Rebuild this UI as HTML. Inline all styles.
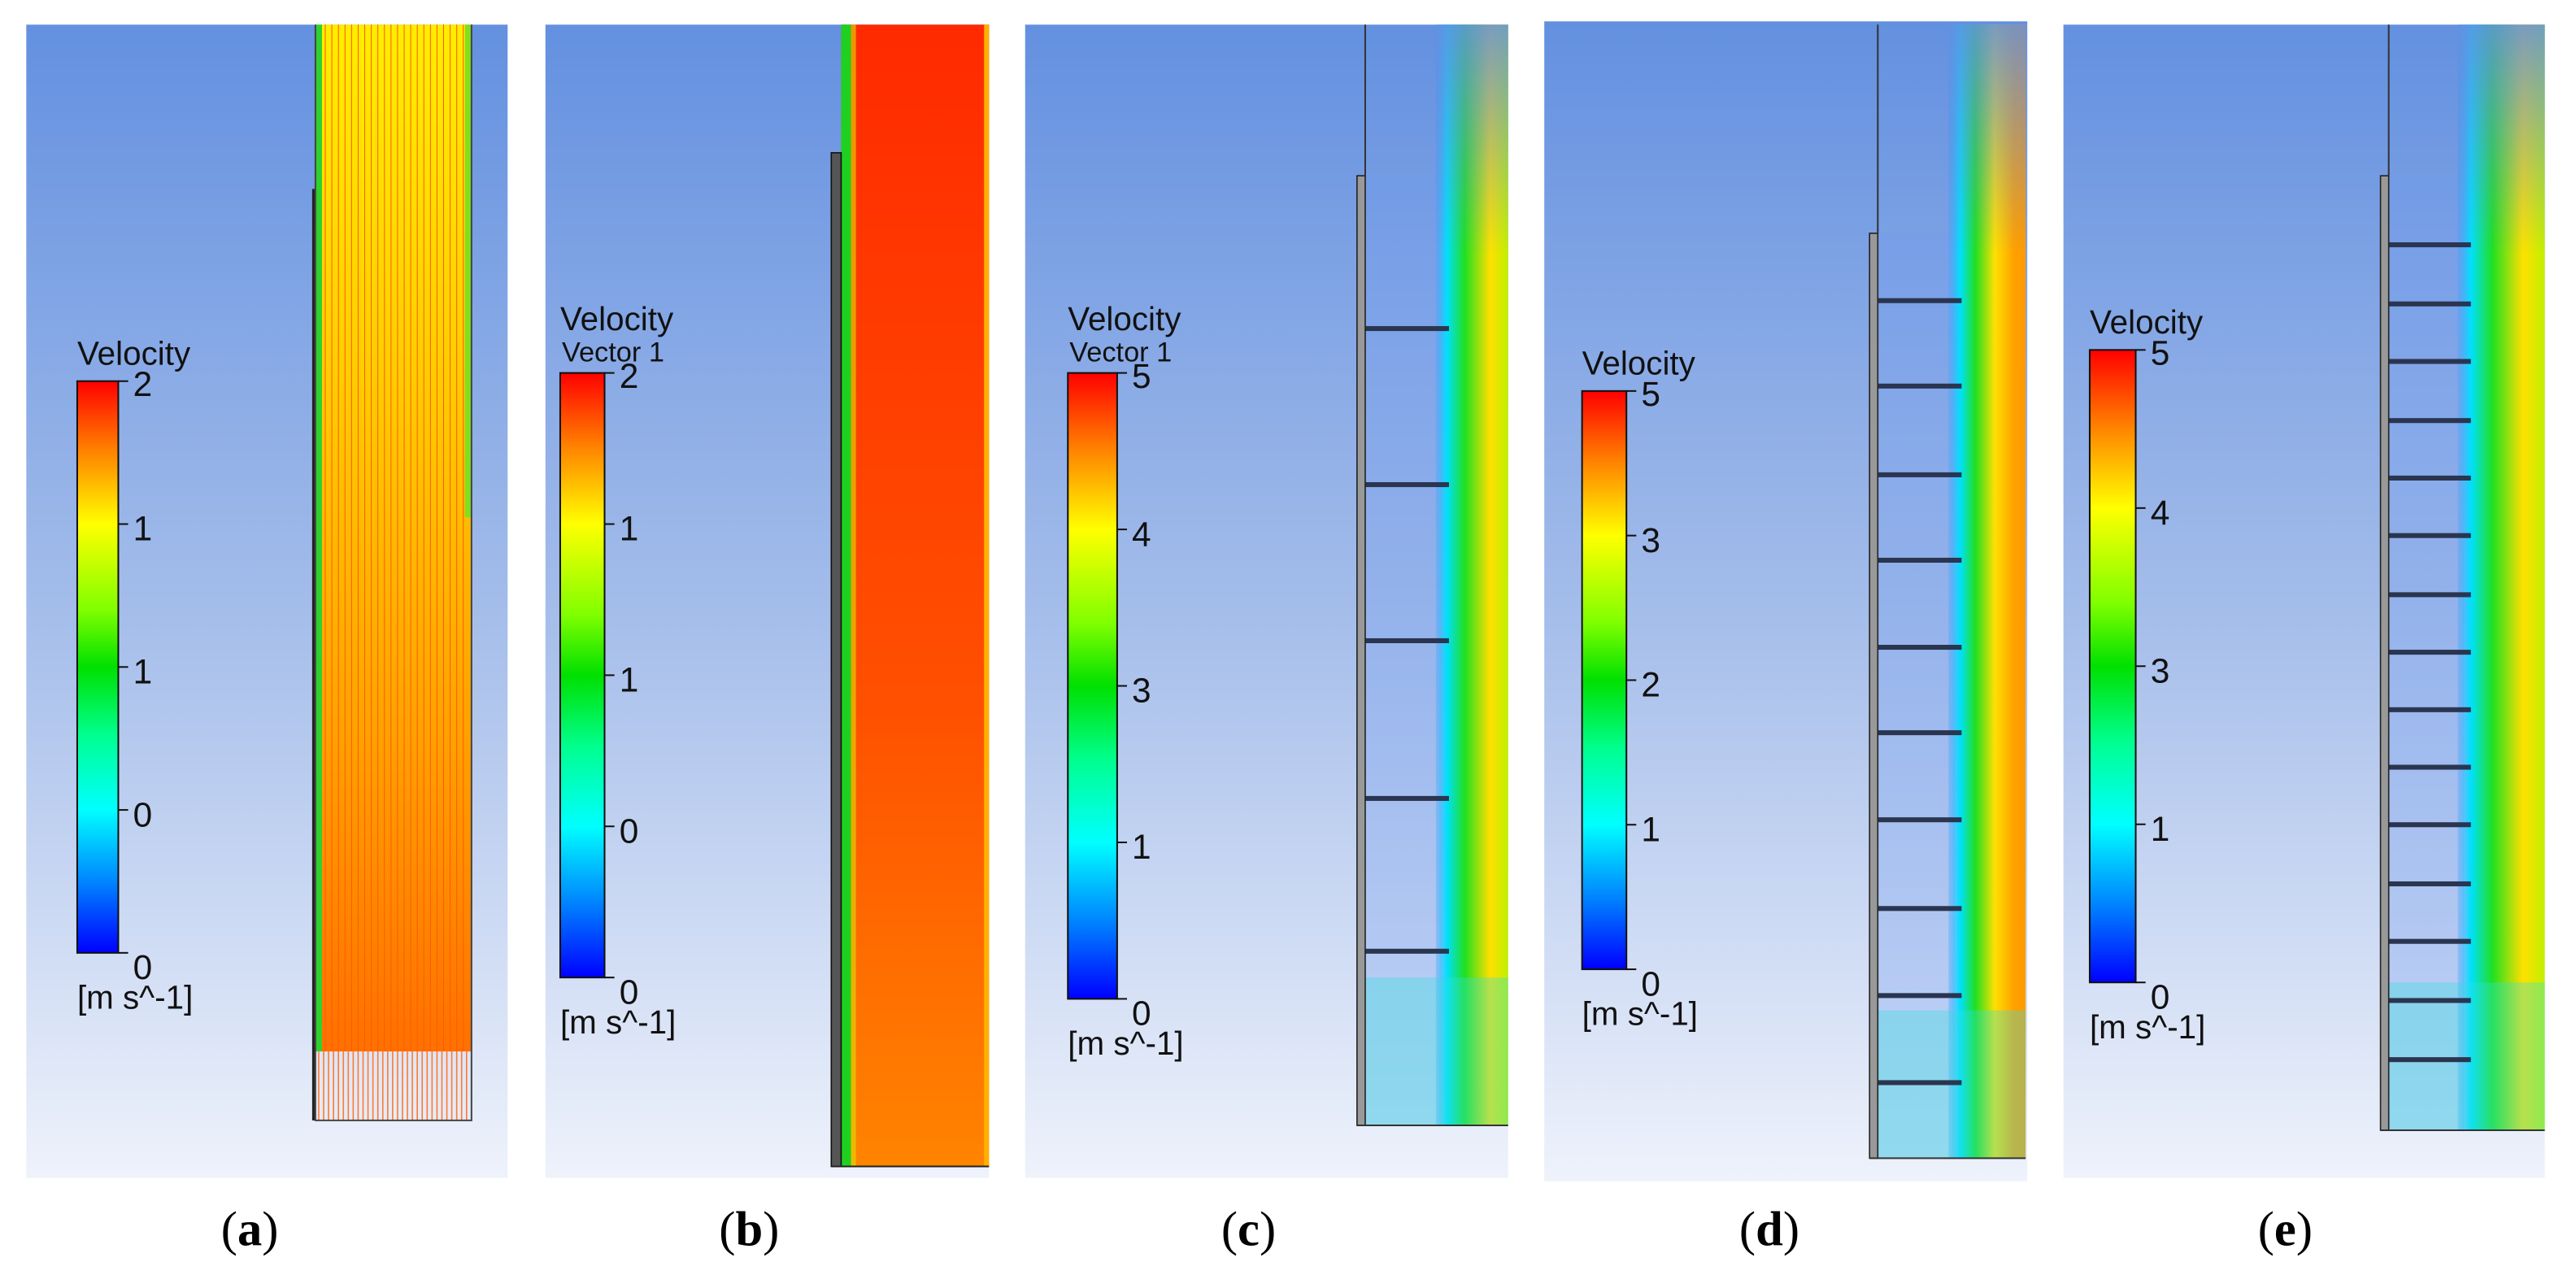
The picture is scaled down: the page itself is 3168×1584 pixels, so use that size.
<!DOCTYPE html>
<html><head><meta charset="utf-8"><style>
html,body{margin:0;padding:0;background:#fff;}
svg{display:block;}
</style></head><body>
<svg id="fig" width="3168" height="1584" viewBox="0 0 1568 784" xmlns="http://www.w3.org/2000/svg">
<defs>
<linearGradient id="bg" x1="0" y1="0" x2="0" y2="1">
<stop offset="0" stop-color="#6390e0"/><stop offset="0.5" stop-color="#a3bcea"/><stop offset="1" stop-color="#eef2fb"/>
</linearGradient>
<linearGradient id="cbar" x1="0" y1="0" x2="0" y2="1">
<stop offset="0" stop-color="#ff0000"/><stop offset="0.12" stop-color="#ff8000"/><stop offset="0.25" stop-color="#ffff00"/><stop offset="0.4" stop-color="#80ff00"/><stop offset="0.5" stop-color="#00e000"/><stop offset="0.62" stop-color="#00ff90"/><stop offset="0.75" stop-color="#00ffff"/><stop offset="0.88" stop-color="#0080ff"/><stop offset="1" stop-color="#0000ff"/>
</linearGradient>
<linearGradient id="flowA" x1="0" y1="0" x2="0" y2="1">
<stop offset="0" stop-color="#ffee00"/><stop offset="0.35" stop-color="#ffcc00"/><stop offset="0.7" stop-color="#ffa000"/><stop offset="1" stop-color="#ff7000"/>
</linearGradient>
<linearGradient id="flowB" x1="0" y1="0" x2="0" y2="1">
<stop offset="0" stop-color="#ff2a00"/><stop offset="0.6" stop-color="#ff5000"/><stop offset="1" stop-color="#ff8400"/>
</linearGradient>
<linearGradient id="jet" x1="0" y1="0" x2="1" y2="0">
<stop offset="0" stop-color="#40a0ff" stop-opacity="0.3"/><stop offset="0.15" stop-color="#00e0ff"/><stop offset="0.4" stop-color="#20e020"/><stop offset="0.75" stop-color="#ffe000"/><stop offset="1" stop-color="#c0f000"/>
</linearGradient>
<linearGradient id="jetD" x1="0" y1="0" x2="1" y2="0">
<stop offset="0" stop-color="#40a0ff" stop-opacity="0.3"/><stop offset="0.15" stop-color="#00e0ff"/><stop offset="0.35" stop-color="#20e020"/><stop offset="0.6" stop-color="#ffe000"/><stop offset="0.85" stop-color="#ffa000"/><stop offset="1" stop-color="#ff9a00"/>
</linearGradient>
<linearGradient id="fadeTop" x1="0" y1="0" x2="0" y2="1">
<stop offset="0" stop-color="#6390e0" stop-opacity="0.85"/><stop offset="1" stop-color="#6390e0" stop-opacity="0"/>
</linearGradient>
</defs>
<g id="root"></g>
</svg>
<script>
const panelIds = ['a','b','c','d','e'];
const legendTitles = ['Velocity','Velocity','Velocity','Velocity','Velocity'];
const legendSubtitles = ['','Vector 1','Vector 1','',''];
const ticksA = ['2','1','1','0','0'];
const ticksB = ['2','1','1','0','0'];
const ticksC = ['5','4','3','1','0'];
const ticksD = ['5','3','2','1','0'];
const ticksE = ['5','4','3','1','0'];
const bafflesC = [200,295,390,486,579];
const bafflesD = [183,235,289,341,394,446,499,553,606,659];
const bafflesE = [149,185,220,256,291,326,362,397,432,467,502,538,573,609,645];

const NS='http://www.w3.org/2000/svg';
const root=document.getElementById('root');
function mk(tag,attrs,parent){const e=document.createElementNS(NS,tag);for(const k in attrs)e.setAttribute(k,attrs[k]);(parent||root).appendChild(e);return e;}
const FONT='"Liberation Sans", Arial, sans-serif';

const layout=[
 {x:16,w:293,y:15,h:702,cb:[47,232,25,348],ticks:ticksA,lx:152},
 {x:332,w:270,y:15,h:702,cb:[341,227,27,368],ticks:ticksB,lx:456},
 {x:624,w:294,y:15,h:702,cb:[650,227,30,381],ticks:ticksC,lx:760},
 {x:940,w:294,y:13,h:706,cb:[963,238,27,352],ticks:ticksD,lx:1077},
 {x:1256,w:293,y:15,h:702,cb:[1272,213,28,385],ticks:ticksE,lx:1391}
];

layout.forEach((p,i)=>{
 const g=mk('g',{});
 
 
 mk('rect',{x:p.x,y:p.y,width:p.w,height:p.h,fill:'url(#bg)'},g);
 drawFlow(i,g);
 const [cx,cy,cw,ch]=p.cb;
 const lg=mk('g',{},g);
 
 
 const tt=mk('text',{x:cx,y:cy-(legendSubtitles[i]?26:10),'font-family':FONT,'font-size':20,fill:'#111'},lg);
 tt.textContent=legendTitles[i];
 
 
 if(legendSubtitles[i]){const st=mk('text',{x:cx+1,y:cy-7,'font-family':FONT,'font-size':17,fill:'#111'},lg);st.textContent=legendSubtitles[i];
  }
 const bar=mk('rect',{x:cx,y:cy,width:cw,height:ch,fill:'url(#cbar)',stroke:'#111','stroke-width':1},lg);
 
 
 p.ticks.forEach((t,k)=>{
  const ty=cy+ch*k/(p.ticks.length-1);
  mk('line',{x1:cx+cw,y1:ty,x2:cx+cw+6,y2:ty,stroke:'#111','stroke-width':1},lg);
  const tl=mk('text',{x:cx+cw+9,y:ty+(k==0?9:k==p.ticks.length-1?16:10),'font-family':FONT,'font-size':21,fill:'#111'},lg);
  tl.textContent=t;
  
  
 });
 const un=mk('text',{x:cx,y:cy+ch+34,'font-family':FONT,'font-size':20,fill:'#111'},lg);
 un.textContent='[m s^-1]';
 
 
 const cap=mk('text',{x:p.lx,y:758,'text-anchor':'middle','font-family':'"Liberation Serif", serif','font-size':30,fill:'#000'},root);
 
 
 cap.innerHTML='(<tspan font-weight="bold">'+panelIds[i]+'</tspan>)';
});

function vlines(g,x0,x1,y0,y1,step,color,w){
 for(let x=x0;x<=x1;x+=step) mk('line',{x1:x,y1:y0,x2:x,y2:y1,stroke:color,'stroke-width':w},g);
}

function drawFlow(i,g){
 if(i===0){
  mk('rect',{x:192,y:15,width:95,height:625,fill:'url(#flowA)'},g);
  mk('rect',{x:192,y:15,width:4,height:625,fill:'#30d030'},g);
  mk('rect',{x:283,y:15,width:4,height:300,fill:'#80e020'},g);
  vlines(g,198,282,15,640,4,'#ff5a00',0.5);
  vlines(g,194,285,640,682,3,'#ff7a30',0.8);
  mk('rect',{x:190,y:115,width:2,height:567,fill:'#222'},g);
  mk('path',{d:'M192 15 V682 H287 V15',fill:'none',stroke:'#444','stroke-width':1},g);
 } else if(i===1){
  mk('rect',{x:512,y:15,width:90,height:695,fill:'url(#flowB)'},g);
  mk('rect',{x:512,y:15,width:6,height:695,fill:'#20d020'},g);
  mk('rect',{x:518,y:15,width:3,height:695,fill:'#e0e000',opacity:0.6},g);
  mk('rect',{x:599,y:15,width:3,height:695,fill:'#ffb000'},g);
  mk('rect',{x:506,y:93,width:6,height:617,fill:'#555',stroke:'#111','stroke-width':0.8},g);
  mk('line',{x1:506,y1:710,x2:602,y2:710,stroke:'#222','stroke-width':1},g);
 } else {
  const cfg={2:{wall:826,top:107,bot:685,jx:878,end:918,bx:882,baf:bafflesC,grad:'url(#jet)'},
             3:{wall:1138,top:142,bot:705,jx:1190,end:1233,bx:1194,baf:bafflesD,grad:'url(#jetD)'},
             4:{wall:1449,top:107,bot:688,jx:1500,end:1549,bx:1504,baf:bafflesE,grad:'url(#jet)'}}[i];
  const w=cfg.wall+5;
  mk('rect',{x:w,y:cfg.top,width:cfg.jx-w,height:cfg.bot-cfg.top,fill:'#6f9cee',opacity:0.3},g);
  mk('rect',{x:cfg.jx-4,y:15,width:cfg.end-cfg.jx+4,height:cfg.bot-15,fill:cfg.grad},g);
  mk('rect',{x:cfg.jx-4,y:15,width:cfg.end-cfg.jx+4,height:140,fill:'url(#fadeTop)'},g);
  mk('rect',{x:w,y:cfg.bot-90,width:cfg.end-w,height:90,fill:'#30e0e0',opacity:0.35},g);
  cfg.baf.forEach(by=>{
   const b=mk('rect',{x:w,y:by-1.5,width:cfg.bx-w,height:3,fill:'#2a3550'},g);
   
   
  });
  mk('rect',{x:cfg.wall,y:cfg.top,width:5,height:cfg.bot-cfg.top,fill:'#999',stroke:'#222','stroke-width':0.8},g);
  mk('line',{x1:w,y1:15,x2:w,y2:cfg.top,stroke:'#333','stroke-width':1},g);
  mk('line',{x1:cfg.wall,y1:cfg.bot,x2:cfg.end,y2:cfg.bot,stroke:'#333','stroke-width':1},g);
 }
}
</script>
</body></html>
